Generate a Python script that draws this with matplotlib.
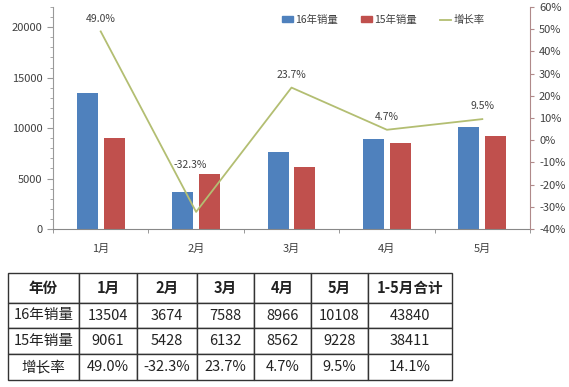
import numpy as np
import matplotlib.pyplot as plt
from matplotlib.patches import Patch
from matplotlib.lines import Line2D
from matplotlib.ticker import MultipleLocator, FuncFormatter

plt.rcParams['font.family'] = ['Noto Sans CJK SC', 'DejaVu Sans']

# data
months = ['1月', '2月', '3月', '4月', '5月']
sales16 = [13504, 3674, 7588, 8966, 10108]
sales15 = [9061, 5428, 6132, 8562, 9228]
growth = [49.0, -32.3, 23.7, 4.7, 9.5]
total16 = 43840
total15 = 38411
total_growth = 14.1

blue = '#4F81BD'
red = '#C0504D'
green = '#B3BE72'
txt = '#404040'

fig = plt.figure(figsize=(5.69, 3.87), dpi=100)
ax = fig.add_axes([53/569, 1-229/387, 477/569, 222/387])

x = np.arange(len(months))
w = 0.22
ax.bar(x - 0.14, sales16, w, color=blue, zorder=2)
ax.bar(x + 0.14, sales15, w, color=red, zorder=2)
ax.set_xlim(-0.5, 4.5)
ax.set_ylim(0, 22000)
ax.set_yticks([0, 5000, 10000, 15000, 20000])
ax.yaxis.set_minor_locator(MultipleLocator(1000))
ax.set_xticks(x)
ax.set_xticklabels(months)
ax.set_xticks(np.arange(-0.5, 5, 1), minor=True)
ax.tick_params(axis='x', which='major', length=0, pad=11, labelsize=8, colors=txt)
ax.tick_params(axis='x', which='minor', length=3, color='#888888')
ax.tick_params(axis='y', which='major', length=4, labelsize=8, colors=txt, color='#999999')
ax.tick_params(axis='y', which='minor', length=2, color='#999999')
for s in ['top', 'right']:
    ax.spines[s].set_visible(False)
ax.spines['left'].set_color('#999999')
ax.spines['bottom'].set_color('#888888')

ax2 = ax.twinx()
ax2.plot(x, np.array(growth) / 100, color=green, lw=1.3)
ax2.set_ylim(-0.4, 0.6)
ax2.set_yticks(np.arange(-0.4, 0.61, 0.1))
ax2.yaxis.set_major_formatter(FuncFormatter(lambda v, p: f'{round(v*100):d}%'))
ax2.tick_params(axis='y', length=3, labelsize=8, colors=txt, color='#B08A8A')
for s in ['top', 'left', 'bottom']:
    ax2.spines[s].set_visible(False)
ax2.spines['right'].set_color('#B08A8A')

offsets = [(0, 5.5), (-4, 30), (0, 5.5), (0, 5.5), (0, 5.5)]
for i, g in enumerate(growth):
    ax2.annotate(f'{g:.1f}%', (x[i], g / 100), xytext=offsets[i], textcoords='offset points',
                 ha='center', va='bottom', fontsize=7.5, color=txt)

handles = [Patch(color=blue), Patch(color=red), Line2D([], [], color=green, lw=1.3)]
fig.legend(handles, ['16年销量', '15年销量', '增长率'], ncol=3, frameon=False,
           loc='center', bbox_to_anchor=(383/569, 1-20/387), fontsize=7.5,
           handlelength=1.1, handleheight=0.5, handletextpad=0.2, columnspacing=2.2,
           labelcolor=txt)

# table
tax = fig.add_axes([8/569, 1-380/387, 444/569, 107/387])
tax.axis('off')
header = ['年份'] + months + ['1-5月合计']
rows = [
    ['16年销量'] + [str(v) for v in sales16] + [str(total16)],
    ['15年销量'] + [str(v) for v in sales15] + [str(total15)],
    ['增长率'] + [f'{g:.1f}%' for g in growth] + [f'{total_growth:.1f}%'],
]
colw = np.array([71, 58, 60, 57, 57, 57, 84]) / 444
rowh = np.array([30, 25, 26, 26]) / 107
tbl = tax.table(cellText=rows, colLabels=header, colWidths=list(colw),
                cellLoc='center', bbox=[0, 0, 1, 1])
tbl.auto_set_font_size(False)
for (r, c), cell in tbl.get_celld().items():
    cell.set_height(rowh[r])
    cell.set_edgecolor('#333333')
    cell.set_linewidth(1)
    cell.get_text().set_fontsize(10.5)
    cell.get_text().set_color('#222222')
    if r == 0:
        cell.get_text().set_fontweight('bold')

fig.savefig('out.png', dpi=100)
